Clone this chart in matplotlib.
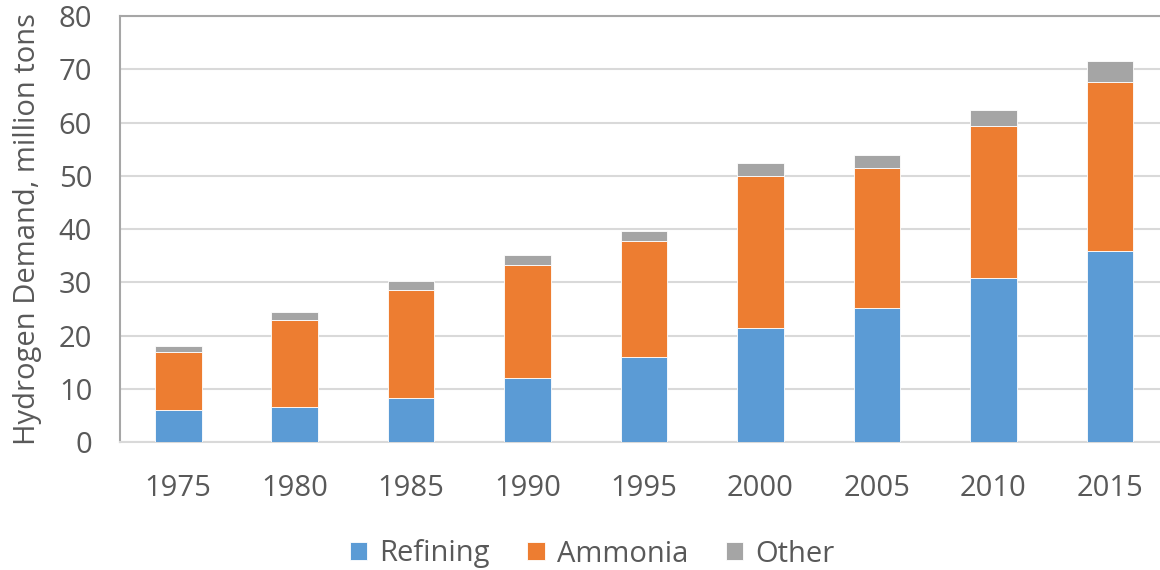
import matplotlib
matplotlib.use("Agg")
import matplotlib.pyplot as plt
import numpy as np

years = ["1975", "1980", "1985", "1990", "1995", "2000", "2005", "2010", "2015"]
refining = [6.1, 6.6, 8.4, 12.0, 16.0, 21.4, 25.2, 30.8, 35.9]
ammonia = [10.9, 16.3, 20.1, 21.3, 21.7, 28.5, 26.2, 28.5, 31.8]
other = [1.0, 1.5, 1.7, 1.8, 2.0, 2.5, 2.5, 3.0, 3.8]
series_names = ["Refining", "Ammonia", "Other"]
colors = ["#5B9BD5", "#ED7D31", "#A5A5A5"]
yticks = [0, 10, 20, 30, 40, 50, 60, 70, 80]

plt.rcParams['font.family'] = ['Open Sans', 'DejaVu Sans']
text_color = "#595959"
fs = 21

fig = plt.figure(figsize=(11.6, 5.7), dpi=100)
ax = fig.add_axes([120/1160, (570-442.3)/570, 1 - 120/1160, (442.3-16)/570])

x = np.arange(len(years))
w = 0.40
bottom = np.zeros(len(years))
for vals, name, c in zip([refining, ammonia, other], series_names, colors):
    ax.bar(x, vals, w, bottom=bottom, color=c, label=name,
           edgecolor="white", linewidth=0.6, zorder=3)
    bottom += np.array(vals)

ax.set_xlim(-0.5, 8.43)
ax.set_ylim(0, 80)
ax.set_yticks(yticks)
ax.set_xticks(x)
ax.set_xticklabels(years)
ax.grid(axis="y", color="#D9D9D9", linewidth=1.5, zorder=0)
ax.set_axisbelow(True)

ax.spines["right"].set_visible(False)
ax.spines["left"].set_color("#A6A6A6")
ax.spines["left"].set_linewidth(1.5)
ax.spines["top"].set_color("#A6A6A6")
ax.spines["top"].set_linewidth(1.5)
ax.spines["bottom"].set_color("#D9D9D9")
ax.spines["bottom"].set_linewidth(1.5)

ax.tick_params(axis="both", length=0, labelsize=fs, colors=text_color)
ax.tick_params(axis="y", pad=20)
ax.tick_params(axis="x", pad=23)
ax.set_ylabel("Hydrogen Demand, million tons", fontsize=fs, color=text_color, labelpad=12)

leg = fig.legend(loc="center", bbox_to_anchor=(592/1160, 1 - 554/570), ncol=3,
                 frameon=False, fontsize=fs, handlelength=0.6, handleheight=0.6,
                 handletextpad=0.4, columnspacing=1.3, labelcolor=text_color)

fig.savefig("out.png", dpi=100)
